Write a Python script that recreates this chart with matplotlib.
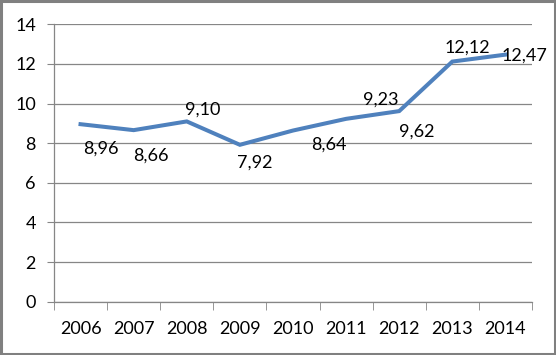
import matplotlib
matplotlib.use("Agg")
import matplotlib.pyplot as plt
import numpy as np

plt.rcParams['font.family'] = ['Lato', 'DejaVu Sans']

years = ['2006', '2007', '2008', '2009', '2010', '2011', '2012', '2013', '2014']
values = [8.96, 8.66, 9.10, 7.92, 8.64, 9.23, 9.62, 12.12, 12.47]
labels = ['8,96', '8,66', '9,10', '7,92', '8,64', '9,23', '9,62', '12,12', '12,47']
# label offsets in pixels (dx, dy) relative to each point
offsets = [(20, -24), (17, -25), (16, 12), (15, -18), (36, -14),
           (35, 19), (18, -21), (15, 14), (19, -1)]

fig = plt.figure(figsize=(5.56, 3.55), dpi=100)
ax = fig.add_axes([0.0971, 0.150, 0.8597, 0.7815])

x = np.arange(len(years))
ax.plot(x, values, color='#4F81BD', lw=2.9, solid_joinstyle='miter', zorder=3)

for xi, v, lab, (dx, dy) in zip(x, values, labels, offsets):
    ax.annotate(lab, (xi, v), xytext=(dx, dy), textcoords='offset pixels',
                ha='center', va='center', fontsize=13, color='black', zorder=4)

ax.set_xlim(-0.5, len(years) - 0.5)
ax.set_ylim(0, 14)
ax.set_yticks(range(0, 15, 2))
ax.set_xticks(x)
ax.set_xticklabels(years)
ax.set_xticks(np.arange(-0.5, len(years)), minor=True)
ax.tick_params(axis='x', which='major', length=0, pad=14, labelsize=13)
ax.tick_params(axis='x', which='minor', length=6, color='#868686', direction='out')
ax.tick_params(axis='y', length=5, color='#868686', pad=8, labelsize=13)

ax.grid(axis='y', color='#868686', lw=0.9)
ax.set_axisbelow(True)
for s in ['top', 'right']:
    ax.spines[s].set_visible(False)
for s in ['left', 'bottom']:
    ax.spines[s].set_color('#868686')
    ax.spines[s].set_linewidth(0.9)

fig.patches.append(plt.Rectangle((0.002, 0.003), 0.996, 0.994, transform=fig.transFigure,
                                 fill=False, edgecolor='#808080', lw=2.2))

fig.savefig('out.png', dpi=100)
